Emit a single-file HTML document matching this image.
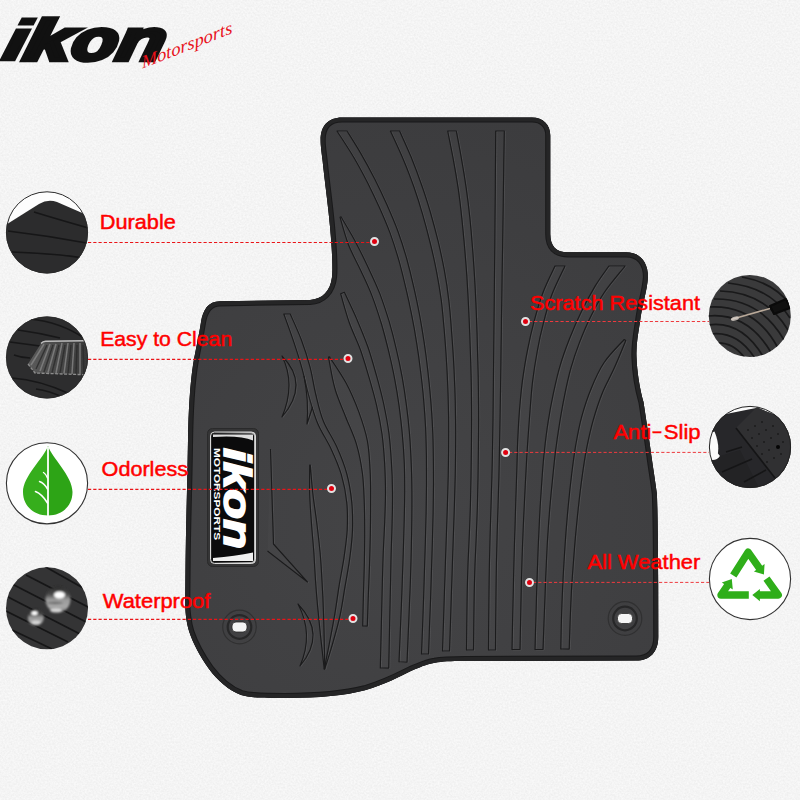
<!DOCTYPE html>
<html lang="en">
<head>
<meta charset="utf-8">
<title>Ikon Motorsports Floor Mat Features</title>
<style>
html,body{margin:0;padding:0;background:#f4f4f4;}
body{width:800px;height:800px;overflow:hidden;font-family:"Liberation Sans",sans-serif;}
svg{display:block;}
.lbl{font-family:"Liberation Sans",sans-serif;font-size:19.7px;fill:#ff0000;stroke:#ff0000;stroke-width:.45px;}
.dash{stroke:#ea1418;stroke-width:1.15;stroke-dasharray:3.2 2.05;fill:none;}
.dash2{stroke:#ee3a3e;stroke-width:1;stroke-dasharray:3.2 2.05;fill:none;}
.ribhl path{fill:none;stroke:#5c5c5e;stroke-width:1;stroke-opacity:.5;}
.rib path{fill:rgba(255,255,255,.02);stroke:#1b1b1c;stroke-width:1.15;stroke-linejoin:round;}
.ln{fill:none;stroke:#1f1f20;stroke-width:1;}
</style>
</head>
<body>
<svg width="800" height="800" viewBox="0 0 800 800">
<defs>
  <path id="matp" d="M 342,117.5 L 532,117.5 C 543,117.5 550.3,124.5 550.3,135.5 L 550.3,234 C 550.3,246 556,252.3 568,252.3 L 626,252.3 C 640,252.3 648,262 648,277 C 647,292 642,305 640,322 C 638,335 636,345 636.5,357 C 637,372 640,390 643.5,402 C 647,425 650,445 652,460 C 654,474 656,486 656.9,494 C 657.6,510 658,540 658.2,585 L 658.3,637 C 658.3,652 650,660.6 636,660.6 L 465,661 C 450,661 442,661.3 435,662.8 C 425,664.5 420,667.5 412,670.5 C 400,676.5 385,684.5 365,690.3 C 345,695.5 320,698 285,698 C 265,698 250,698 241,695 C 229,690.5 218,681 209,669 C 200,656.5 193,643 189.3,632 C 186,621 185.2,612 185.2,600 L 185.6,560 C 186,520 187.5,480 188,440 C 188.5,410 190,385 193,365 C 196,348 199,335 201,322 C 203,310 208,301.3 220,301.3 L 310,299.9 C 322,299.5 330.5,291 332,277 C 333,268 332,250 330.3,230 C 328.5,208 324.5,180 322.5,160 C 321.3,150 320.6,146 320.6,140 C 320.6,126 328,117.5 342,117.5 Z"/>
  <clipPath id="matclip"><use href="#matp"/></clipPath>
  <radialGradient id="matg" cx="400" cy="520" r="420" gradientUnits="userSpaceOnUse">
    <stop offset="0" stop-color="#444446"/>
    <stop offset="1" stop-color="#3c3c3e"/>
  </radialGradient>
  <linearGradient id="bdg" x1="0" y1="0" x2="1" y2="0"><stop offset="0" stop-color="#222"/><stop offset="1" stop-color="#bbb"/></linearGradient>
  <radialGradient id="dropg" cx=".5" cy=".5" r=".5"><stop offset="0" stop-color="#8a8a8a"/><stop offset=".7" stop-color="#6a6a6a"/><stop offset="1" stop-color="#2a2a2a"/></radialGradient>
  <radialGradient id="dropg2" cx=".5" cy=".5" r=".5"><stop offset="0" stop-color="#909090"/><stop offset=".7" stop-color="#6a6a6a"/><stop offset="1" stop-color="#2a2a2a"/></radialGradient>
  <filter id="b5" x="-10%" y="-10%" width="120%" height="120%"><feGaussianBlur stdDeviation=".55"/></filter>
  <filter id="b8" x="-10%" y="-10%" width="120%" height="120%"><feGaussianBlur stdDeviation=".8"/></filter>
  <linearGradient id="brg" x1="0" y1="0" x2="1" y2="0"><stop offset="0" stop-color="#5c5c5c"/><stop offset=".5" stop-color="#484848"/><stop offset="1" stop-color="#363636"/></linearGradient>
  <linearGradient id="drl" x1="0" y1="0" x2="0" y2="1"><stop offset="0" stop-color="#2c2c2c"/><stop offset=".3" stop-color="#4a4a4a"/><stop offset=".5" stop-color="#9a9a9a"/><stop offset=".8" stop-color="#a8a8a8"/><stop offset="1" stop-color="#6a6a6a"/></linearGradient>
  <filter id="bgn" x="0" y="0" width="100%" height="100%" color-interpolation-filters="sRGB"><feTurbulence type="fractalNoise" baseFrequency="0.55" numOctaves="2" seed="7" result="n"/><feColorMatrix in="n" type="matrix" values="0.07 0 0 0 0.922  0.07 0 0 0 0.922  0.07 0 0 0 0.922  0 0 0 0 1"/></filter>
  <clipPath id="c1"><circle cx="47" cy="232.4" r="41"/></clipPath>
  <clipPath id="c2"><circle cx="47" cy="357.4" r="41"/></clipPath>
  <clipPath id="c4"><circle cx="47" cy="608.3" r="41"/></clipPath>
  <clipPath id="c5"><circle cx="749.8" cy="316" r="41"/></clipPath>
  <clipPath id="c6"><circle cx="750" cy="447" r="41"/></clipPath>
</defs>
<rect width="800" height="800" fill="#f4f4f4"/>
<rect width="800" height="800" fill="#f4f4f4" filter="url(#bgn)"/>

<!-- MAT -->
<g clip-path="url(#matclip)">
  <use href="#matp" fill="url(#matg)"/>
  <g id="ribs">
<g class="ribhl" transform="translate(1.1,.5)">
<path d="M 495.7,131.0 C 495.7,135.8 495.6,150.2 495.5,159.9 C 495.4,169.7 495.3,179.9 495.3,189.6 C 495.2,199.3 495.1,208.5 495.0,218.0 C 494.9,227.5 494.9,237.1 494.8,246.7 C 494.7,256.2 494.6,265.6 494.5,275.2 C 494.4,284.9 494.3,295.1 494.2,304.7 C 494.1,314.3 494.0,323.4 493.9,333.0 C 493.8,342.6 493.7,352.6 493.6,362.2 C 493.5,371.8 493.4,381.0 493.3,390.6 C 493.2,400.1 493.1,409.7 493.0,419.3 C 492.8,428.9 492.7,438.6 492.5,448.2 C 492.4,457.8 492.1,467.2 491.9,476.9 C 491.6,486.7 491.3,497.0 491.0,506.7 C 490.7,516.4 490.4,525.6 490.1,535.2 C 489.9,544.8 489.6,554.9 489.4,564.4 C 489.2,574.0 489.1,582.9 489.0,592.4 C 488.9,601.9 488.8,611.8 488.7,621.4 C 488.6,631.0 488.5,645.2 488.5,650.0 L 495.5,650.0 C 495.5,645.2 495.6,631.0 495.7,621.5 C 495.8,611.9 495.9,602.0 496.0,592.5 C 496.1,583.0 496.2,574.1 496.4,564.6 C 496.6,555.0 496.9,545.0 497.1,535.4 C 497.4,525.8 497.7,516.6 498.0,506.9 C 498.3,497.2 498.6,486.9 498.9,477.1 C 499.1,467.4 499.3,457.9 499.5,448.3 C 499.7,438.7 499.9,429.1 500.0,419.4 C 500.2,409.8 500.3,400.2 500.5,390.7 C 500.6,381.1 500.8,371.9 500.9,362.3 C 501.0,352.7 501.1,342.6 501.3,333.1 C 501.4,323.5 501.5,314.4 501.7,304.8 C 501.8,295.2 502.0,285.0 502.1,275.3 C 502.3,265.7 502.4,256.3 502.6,246.8 C 502.7,237.2 502.9,227.6 503.0,218.1 C 503.2,208.6 503.3,199.4 503.4,189.7 C 503.6,180.0 503.7,169.8 503.8,160.0 C 504.0,150.2 504.2,135.8 504.3,131.0 Z"/>
<path d="M 447.7,131.0 C 448.6,135.9 451.7,150.9 453.5,160.6 C 455.3,170.3 456.9,179.7 458.3,189.2 C 459.7,198.8 460.8,208.6 461.8,218.1 C 462.8,227.5 463.6,236.6 464.5,246.2 C 465.3,255.7 466.1,265.8 466.8,275.4 C 467.4,284.9 467.9,294.0 468.4,303.6 C 468.9,313.2 469.3,323.2 469.7,332.9 C 470.1,342.6 470.4,352.3 470.7,361.8 C 471.0,371.3 471.2,380.3 471.4,389.9 C 471.5,399.5 471.6,409.6 471.6,419.3 C 471.6,429.0 471.5,438.5 471.4,448.1 C 471.3,457.8 471.1,467.8 471.0,477.3 C 470.8,486.9 470.6,495.9 470.4,505.5 C 470.1,515.0 469.7,525.0 469.3,534.8 C 468.9,544.5 468.4,554.3 468.0,563.9 C 467.7,573.5 467.4,582.7 467.2,592.2 C 467.0,601.8 466.9,611.4 466.8,621.1 C 466.7,630.7 466.5,645.2 466.5,650.0 L 473.5,650.0 C 473.6,645.2 473.7,630.7 473.8,621.1 C 473.9,611.5 474.0,601.9 474.2,592.4 C 474.4,582.9 474.7,573.7 475.0,564.2 C 475.4,554.6 475.9,544.8 476.3,535.1 C 476.7,525.3 477.1,515.3 477.4,505.7 C 477.6,496.1 477.8,487.0 478.0,477.5 C 478.1,467.9 478.3,457.9 478.4,448.2 C 478.5,438.5 478.6,429.0 478.6,419.3 C 478.6,409.6 478.5,399.4 478.4,389.8 C 478.3,380.2 478.1,371.1 477.8,361.6 C 477.6,352.1 477.3,342.4 477.0,332.6 C 476.7,322.9 476.3,312.9 475.9,303.3 C 475.5,293.6 475.0,284.5 474.4,274.9 C 473.8,265.2 473.1,255.1 472.3,245.5 C 471.6,235.9 470.8,226.8 469.8,217.2 C 468.8,207.7 467.6,197.8 466.2,188.1 C 464.8,178.4 463.2,168.6 461.5,159.1 C 459.9,149.6 457.2,135.7 456.3,131.0 Z"/>
<path d="M 390.4,131.0 C 392.6,135.8 399.6,150.6 403.5,160.0 C 407.5,169.4 410.8,178.3 414.0,187.3 C 417.2,196.4 419.9,205.0 422.6,214.3 C 425.3,223.6 427.9,233.5 430.2,243.0 C 432.6,252.6 434.8,262.2 436.6,271.8 C 438.4,281.3 440.0,290.9 441.3,300.4 C 442.5,309.9 443.2,319.1 444.1,328.8 C 444.9,338.4 445.7,348.4 446.3,358.3 C 446.9,368.2 447.5,378.3 447.8,388.0 C 448.2,397.8 448.4,407.2 448.6,416.9 C 448.7,426.5 448.7,436.0 448.6,445.8 C 448.6,455.7 448.4,466.0 448.2,475.9 C 448.0,485.7 447.7,495.4 447.4,505.1 C 447.1,514.8 446.7,524.3 446.4,534.0 C 446.1,543.7 445.7,553.3 445.4,563.1 C 445.1,572.9 444.8,582.9 444.4,592.7 C 444.1,602.5 443.8,612.2 443.5,621.9 C 443.1,631.6 442.7,646.1 442.5,651.0 L 449.5,651.0 C 449.7,646.2 450.1,631.8 450.5,622.1 C 450.8,612.4 451.1,602.7 451.4,592.9 C 451.8,583.1 452.1,573.1 452.4,563.3 C 452.7,553.5 453.0,543.9 453.4,534.3 C 453.7,524.6 454.1,515.0 454.4,505.3 C 454.7,495.6 455.0,485.9 455.2,476.0 C 455.4,466.1 455.6,455.8 455.6,445.9 C 455.7,436.0 455.7,426.5 455.5,416.8 C 455.4,407.1 455.2,397.6 454.8,387.8 C 454.4,378.0 454.0,367.8 453.4,357.9 C 452.8,348.0 452.1,337.9 451.3,328.2 C 450.6,318.4 449.9,309.2 448.7,299.6 C 447.6,289.9 446.1,279.9 444.3,270.2 C 442.5,260.4 440.4,250.9 438.1,241.2 C 435.7,231.5 433.0,221.4 430.3,212.0 C 427.5,202.6 424.8,194.0 421.5,184.8 C 418.3,175.5 414.6,165.7 411.0,156.8 C 407.3,147.8 401.5,135.3 399.6,131.0 Z"/>
<path d="M 337.0,131.0 C 339.8,135.4 348.6,148.6 353.7,157.2 C 358.8,165.8 363.3,174.3 367.6,182.7 C 371.8,191.1 375.5,198.9 379.3,207.3 C 383.1,215.8 386.9,224.6 390.2,233.4 C 393.4,242.2 396.2,251.1 398.8,260.2 C 401.4,269.3 403.6,278.7 405.8,287.9 C 408.0,297.2 410.0,306.5 411.8,315.7 C 413.7,324.9 415.3,334.2 416.7,343.4 C 418.2,352.5 419.4,361.4 420.5,370.7 C 421.7,380.1 422.8,389.7 423.6,399.2 C 424.4,408.7 425.1,418.3 425.6,427.7 C 426.0,437.1 426.2,446.1 426.4,455.6 C 426.5,465.0 426.5,475.0 426.5,484.5 C 426.4,494.0 426.3,503.4 426.1,512.7 C 425.9,522.1 425.6,531.3 425.4,540.6 C 425.1,550.0 424.8,559.4 424.5,568.9 C 424.2,578.5 423.9,588.4 423.6,597.9 C 423.3,607.5 422.9,616.8 422.6,626.2 C 422.2,635.5 421.7,649.4 421.5,654.0 L 428.5,654.0 C 428.7,649.4 429.2,635.8 429.5,626.4 C 429.9,617.1 430.3,607.7 430.6,598.2 C 430.9,588.6 431.2,578.7 431.5,569.1 C 431.8,559.6 432.1,550.2 432.4,540.8 C 432.6,531.5 432.9,522.3 433.1,512.9 C 433.3,503.5 433.4,494.1 433.5,484.5 C 433.5,475.0 433.5,465.0 433.3,455.5 C 433.2,445.9 433.0,436.8 432.5,427.3 C 432.1,417.9 431.4,408.2 430.6,398.6 C 429.8,389.0 428.8,379.3 427.7,369.9 C 426.7,360.5 425.5,351.5 424.1,342.2 C 422.7,333.0 421.2,323.6 419.4,314.2 C 417.6,304.9 415.7,295.5 413.5,286.2 C 411.4,276.8 409.1,267.3 406.5,258.0 C 403.9,248.8 401.0,239.7 397.7,230.7 C 394.4,221.7 390.4,212.6 386.6,204.0 C 382.7,195.4 379.0,187.6 374.7,179.1 C 370.4,170.6 365.3,161.1 360.6,153.1 C 356.0,145.1 349.3,134.7 347.0,131.0 Z"/>
<path d="M 340.0,217.2 C 341.4,221.8 345.0,235.8 348.5,244.8 C 352.0,253.8 357.2,262.7 361.1,271.3 C 365.1,279.9 368.9,287.6 372.2,296.4 C 375.6,305.2 378.7,315.0 381.5,324.0 C 384.2,333.1 386.3,341.6 388.5,350.7 C 390.7,359.8 392.9,369.5 394.6,378.7 C 396.4,388.0 397.8,396.8 399.1,406.1 C 400.3,415.3 401.5,424.9 402.3,434.4 C 403.2,444.0 403.9,453.9 404.3,463.4 C 404.7,472.9 404.7,481.9 404.7,491.3 C 404.7,500.7 404.4,510.6 404.2,520.0 C 404.0,529.5 403.6,538.6 403.4,548.2 C 403.1,557.7 402.8,567.9 402.4,577.3 C 402.1,586.8 401.8,595.5 401.4,604.9 C 401.0,614.3 400.6,624.4 400.2,633.9 C 399.8,643.4 399.2,657.2 399.0,661.8 L 407.0,662.2 C 407.2,657.5 407.8,643.7 408.2,634.3 C 408.6,624.8 409.1,614.7 409.4,605.2 C 409.8,595.8 410.2,587.1 410.5,577.6 C 410.8,568.2 411.1,558.0 411.3,548.4 C 411.5,538.8 411.7,529.7 411.8,520.2 C 411.9,510.7 412.0,500.8 411.9,491.3 C 411.8,481.8 411.7,472.7 411.2,463.1 C 410.8,453.5 410.3,443.5 409.5,433.8 C 408.7,424.1 407.7,414.5 406.4,405.1 C 405.2,395.7 403.9,386.7 402.2,377.3 C 400.5,367.9 398.4,358.1 396.2,348.9 C 394.1,339.6 391.9,330.9 389.2,321.7 C 386.4,312.5 383.2,302.6 379.8,293.6 C 376.3,284.6 372.4,276.5 368.3,267.8 C 364.3,259.2 359.9,250.2 355.4,241.7 C 350.8,233.2 343.4,221.0 341.0,216.8 Z"/>
<path d="M 340.6,293.7 C 342.1,298.5 346.0,313.4 349.3,322.7 C 352.6,332.0 357.1,340.5 360.4,349.7 C 363.7,358.9 366.4,368.5 369.1,377.7 C 371.8,387.0 374.4,395.8 376.5,405.2 C 378.7,414.6 380.6,424.4 382.0,434.0 C 383.3,443.5 384.0,453.1 384.6,462.7 C 385.1,472.4 385.5,482.0 385.5,491.9 C 385.5,501.7 385.0,511.9 384.7,521.8 C 384.3,531.7 383.7,541.6 383.3,551.3 C 382.9,561.0 382.7,570.4 382.4,580.2 C 382.2,589.9 381.9,600.1 381.7,610.0 C 381.5,619.9 381.2,629.9 381.0,639.6 C 380.8,649.2 380.4,663.2 380.3,667.9 L 388.7,668.1 C 388.8,663.4 389.1,649.4 389.3,639.7 C 389.5,630.1 389.7,620.1 389.9,610.2 C 390.1,600.3 390.4,590.1 390.6,580.3 C 390.8,570.6 390.9,561.2 391.2,551.5 C 391.5,541.8 391.9,532.1 392.1,522.2 C 392.4,512.2 392.6,501.8 392.5,491.8 C 392.4,481.8 392.1,472.1 391.4,462.3 C 390.8,452.5 390.2,442.9 388.9,433.1 C 387.6,423.3 385.6,413.1 383.6,403.5 C 381.5,393.9 379.1,385.1 376.5,375.7 C 373.9,366.3 371.2,356.5 368.0,347.2 C 364.7,337.8 360.8,328.6 356.9,319.4 C 353.0,310.3 346.5,296.8 344.4,292.3 Z"/>
<path d="M 328.5,357.1 C 329.6,362.4 332.0,378.6 334.9,388.5 C 337.7,398.4 342.0,407.4 345.6,416.7 C 349.2,426.0 353.7,434.9 356.5,444.3 C 359.3,453.8 361.1,463.4 362.4,473.3 C 363.7,483.2 363.9,493.4 364.3,503.7 C 364.7,514.0 364.7,524.8 364.7,535.1 C 364.7,545.3 364.5,554.9 364.3,565.0 C 364.1,575.2 363.6,585.8 363.4,595.9 C 363.1,606.1 362.8,620.9 362.7,625.9 L 367.3,626.1 C 367.5,621.1 367.9,606.2 368.3,596.1 C 368.7,585.9 369.1,575.4 369.5,565.2 C 369.8,555.0 370.1,545.4 370.3,535.1 C 370.5,524.8 370.6,514.0 370.6,503.6 C 370.6,493.3 370.8,483.2 370.2,472.8 C 369.7,462.4 369.3,451.3 367.4,441.1 C 365.5,431.0 362.3,421.6 358.8,411.9 C 355.2,402.3 351.0,392.3 346.1,383.1 C 341.2,373.9 332.2,361.2 329.5,356.9 Z"/>
<path d="M 283.8,314.0 C 285.5,318.7 290.9,333.3 293.9,342.4 C 297.0,351.6 299.6,359.8 302.1,368.9 C 304.6,377.9 306.4,387.6 309.0,396.7 C 311.6,405.8 314.0,414.7 317.7,423.4 C 321.4,432.1 327.1,440.4 331.1,448.9 C 335.1,457.5 338.8,466.0 341.4,474.8 C 344.0,483.7 345.8,493.0 346.7,502.1 C 347.7,511.3 347.6,520.4 347.2,529.7 C 346.7,539.1 345.2,548.8 343.9,558.2 C 342.5,567.6 340.5,576.9 339.0,586.3 C 337.5,595.6 336.4,604.9 334.8,614.2 C 333.2,623.5 331.4,632.9 329.6,642.1 C 327.9,651.2 325.1,664.5 324.2,669.0 L 324.8,669.0 C 326.1,664.6 330.3,651.8 332.8,642.9 C 335.4,633.9 338.1,624.4 340.1,615.2 C 342.1,605.9 343.3,596.5 344.9,587.2 C 346.5,577.8 348.3,568.7 349.6,559.2 C 350.9,549.7 352.1,539.6 352.5,530.0 C 352.8,520.4 352.6,511.0 351.7,501.6 C 350.7,492.2 349.2,482.8 346.7,473.5 C 344.2,464.3 340.3,454.8 336.4,446.1 C 332.5,437.4 326.8,429.7 323.4,421.2 C 319.9,412.7 318.1,404.1 315.9,395.0 C 313.6,385.9 312.4,375.9 309.9,366.7 C 307.5,357.5 304.6,348.5 301.3,339.7 C 298.0,331.0 292.1,318.3 290.2,314.0 Z"/>
<path d="M 309.7,465.0 C 309.7,469.9 309.4,484.7 309.7,494.5 C 310.0,504.3 310.8,514.1 311.5,523.9 C 312.2,533.7 313.2,543.6 313.9,553.2 C 314.5,562.9 314.9,572.1 315.6,581.8 C 316.3,591.5 317.1,601.7 318.1,611.4 C 319.0,621.1 320.0,630.5 321.0,640.1 C 322.1,649.7 323.7,664.2 324.2,669.0 L 324.8,669.0 C 324.7,664.1 324.4,649.5 324.2,639.9 C 324.0,630.2 323.8,620.8 323.4,611.1 C 323.1,601.3 322.6,591.1 322.0,581.4 C 321.5,571.7 321.0,562.5 320.1,552.8 C 319.2,543.1 318.0,532.9 316.8,523.2 C 315.6,513.4 314.0,504.0 312.9,494.3 C 311.8,484.6 310.7,469.9 310.3,465.0 Z"/>
<path d="M 555.0,266.0 C 553.0,270.4 546.6,282.9 543.1,292.2 C 539.6,301.5 536.6,311.9 534.0,321.6 C 531.4,331.2 529.4,340.3 527.5,350.1 C 525.5,360.0 523.8,370.9 522.4,380.8 C 521.1,390.8 520.3,400.0 519.5,409.9 C 518.7,419.8 518.2,430.0 517.7,440.2 C 517.3,450.3 517.1,460.7 516.8,470.7 C 516.5,480.7 516.1,490.2 515.8,500.1 C 515.5,510.1 515.2,520.4 514.9,530.4 C 514.5,540.3 514.3,549.9 514.0,559.9 C 513.7,569.9 513.5,580.3 513.3,590.4 C 513.0,600.5 512.8,610.4 512.6,620.3 C 512.4,630.1 512.1,644.6 512.0,649.5 L 520.0,649.5 C 520.1,644.7 520.4,630.2 520.6,620.4 C 520.8,610.6 521.0,600.6 521.2,590.6 C 521.4,580.5 521.7,570.1 522.0,560.1 C 522.3,550.1 522.7,540.6 523.1,530.7 C 523.5,520.7 524.0,510.4 524.5,500.5 C 525.0,490.5 525.4,481.1 526.0,471.1 C 526.5,461.1 527.1,450.7 527.8,440.7 C 528.5,430.6 529.2,420.5 530.0,410.7 C 530.8,401.0 531.3,391.8 532.5,382.0 C 533.7,372.2 535.3,361.7 537.1,352.0 C 538.8,342.3 540.7,333.3 543.2,323.9 C 545.6,314.4 548.0,304.9 551.6,295.3 C 555.2,285.6 562.7,270.9 565.0,266.0 Z"/>
<path d="M 608.9,266.0 C 606.6,269.4 599.8,278.4 595.1,286.1 C 590.5,293.8 585.4,303.4 581.1,312.2 C 576.8,320.9 573.1,329.6 569.6,338.5 C 566.1,347.4 562.9,356.1 560.2,365.3 C 557.4,374.5 555.3,384.2 553.3,393.7 C 551.3,403.1 549.6,412.3 548.1,421.9 C 546.6,431.4 545.4,441.3 544.4,450.8 C 543.3,460.2 542.7,469.2 542.0,478.6 C 541.3,488.0 540.7,497.6 540.1,507.2 C 539.6,516.8 539.1,526.8 538.7,536.2 C 538.2,545.7 537.9,554.5 537.6,564.0 C 537.2,573.5 536.9,583.6 536.6,593.2 C 536.3,602.7 536.1,611.9 535.8,621.3 C 535.5,630.7 535.1,644.8 535.0,649.5 L 543.0,649.5 C 543.2,644.8 543.7,630.9 544.0,621.5 C 544.4,612.2 544.7,603.0 545.1,593.5 C 545.4,583.9 545.8,573.8 546.3,564.4 C 546.7,554.9 547.1,546.1 547.7,536.7 C 548.3,527.3 549.0,517.4 549.8,507.9 C 550.6,498.4 551.5,488.8 552.5,479.5 C 553.4,470.2 554.3,461.3 555.4,452.0 C 556.6,442.7 558.0,433.1 559.5,423.7 C 561.0,414.4 562.6,405.1 564.5,395.9 C 566.3,386.7 568.3,377.3 570.8,368.4 C 573.3,359.5 576.2,351.0 579.5,342.4 C 582.8,333.8 586.4,325.1 590.6,316.7 C 594.7,308.4 598.7,300.7 604.4,292.2 C 610.2,283.8 621.7,270.4 625.1,266.0 Z"/>
<path d="M 624.2,339.5 C 620.8,343.3 609.6,354.3 604.1,362.5 C 598.6,370.7 594.8,379.5 591.1,388.7 C 587.3,397.8 584.1,407.8 581.5,417.4 C 578.9,427.0 577.2,436.8 575.5,446.3 C 573.9,455.8 572.8,464.9 571.6,474.6 C 570.4,484.3 569.3,494.6 568.4,504.4 C 567.4,514.1 566.7,523.5 565.9,533.1 C 565.2,542.7 564.6,552.4 564.0,562.0 C 563.4,571.6 562.9,581.0 562.5,590.9 C 562.0,600.7 561.7,611.3 561.4,621.0 C 561.1,630.6 560.9,644.2 560.8,648.9 L 569.2,649.1 C 569.4,644.5 569.8,630.9 570.1,621.2 C 570.5,611.6 570.9,601.1 571.4,591.3 C 572.0,581.6 572.6,572.2 573.4,562.6 C 574.1,553.1 574.8,543.5 575.7,533.9 C 576.6,524.4 577.5,515.1 578.6,505.4 C 579.6,495.8 580.9,485.5 582.2,475.9 C 583.5,466.4 584.8,457.5 586.6,448.3 C 588.5,439.0 590.5,429.6 593.1,420.4 C 595.7,411.2 598.7,401.9 602.2,393.2 C 605.7,384.5 610.3,376.9 614.2,368.1 C 618.2,359.3 623.9,345.1 625.8,340.5 Z"/>
<path d="M282,356 Q310,384 282,417 Q296,384 282,356Z"/>
<path d="M298,604 Q327,634 300,666 Q314,634 298,604Z"/>
<path d="M304,376 Q309,402 307,424 L312.5,407" fill="none"/>
<path d="M270.5,449 L273.5,544 L307.5,582 L267.5,551" fill="none"/>
</g>
<g class="rib">
<path d="M 495.7,131.0 C 495.7,135.8 495.6,150.2 495.5,159.9 C 495.4,169.7 495.3,179.9 495.3,189.6 C 495.2,199.3 495.1,208.5 495.0,218.0 C 494.9,227.5 494.9,237.1 494.8,246.7 C 494.7,256.2 494.6,265.6 494.5,275.2 C 494.4,284.9 494.3,295.1 494.2,304.7 C 494.1,314.3 494.0,323.4 493.9,333.0 C 493.8,342.6 493.7,352.6 493.6,362.2 C 493.5,371.8 493.4,381.0 493.3,390.6 C 493.2,400.1 493.1,409.7 493.0,419.3 C 492.8,428.9 492.7,438.6 492.5,448.2 C 492.4,457.8 492.1,467.2 491.9,476.9 C 491.6,486.7 491.3,497.0 491.0,506.7 C 490.7,516.4 490.4,525.6 490.1,535.2 C 489.9,544.8 489.6,554.9 489.4,564.4 C 489.2,574.0 489.1,582.9 489.0,592.4 C 488.9,601.9 488.8,611.8 488.7,621.4 C 488.6,631.0 488.5,645.2 488.5,650.0 L 495.5,650.0 C 495.5,645.2 495.6,631.0 495.7,621.5 C 495.8,611.9 495.9,602.0 496.0,592.5 C 496.1,583.0 496.2,574.1 496.4,564.6 C 496.6,555.0 496.9,545.0 497.1,535.4 C 497.4,525.8 497.7,516.6 498.0,506.9 C 498.3,497.2 498.6,486.9 498.9,477.1 C 499.1,467.4 499.3,457.9 499.5,448.3 C 499.7,438.7 499.9,429.1 500.0,419.4 C 500.2,409.8 500.3,400.2 500.5,390.7 C 500.6,381.1 500.8,371.9 500.9,362.3 C 501.0,352.7 501.1,342.6 501.3,333.1 C 501.4,323.5 501.5,314.4 501.7,304.8 C 501.8,295.2 502.0,285.0 502.1,275.3 C 502.3,265.7 502.4,256.3 502.6,246.8 C 502.7,237.2 502.9,227.6 503.0,218.1 C 503.2,208.6 503.3,199.4 503.4,189.7 C 503.6,180.0 503.7,169.8 503.8,160.0 C 504.0,150.2 504.2,135.8 504.3,131.0 Z"/>
<path d="M 447.7,131.0 C 448.6,135.9 451.7,150.9 453.5,160.6 C 455.3,170.3 456.9,179.7 458.3,189.2 C 459.7,198.8 460.8,208.6 461.8,218.1 C 462.8,227.5 463.6,236.6 464.5,246.2 C 465.3,255.7 466.1,265.8 466.8,275.4 C 467.4,284.9 467.9,294.0 468.4,303.6 C 468.9,313.2 469.3,323.2 469.7,332.9 C 470.1,342.6 470.4,352.3 470.7,361.8 C 471.0,371.3 471.2,380.3 471.4,389.9 C 471.5,399.5 471.6,409.6 471.6,419.3 C 471.6,429.0 471.5,438.5 471.4,448.1 C 471.3,457.8 471.1,467.8 471.0,477.3 C 470.8,486.9 470.6,495.9 470.4,505.5 C 470.1,515.0 469.7,525.0 469.3,534.8 C 468.9,544.5 468.4,554.3 468.0,563.9 C 467.7,573.5 467.4,582.7 467.2,592.2 C 467.0,601.8 466.9,611.4 466.8,621.1 C 466.7,630.7 466.5,645.2 466.5,650.0 L 473.5,650.0 C 473.6,645.2 473.7,630.7 473.8,621.1 C 473.9,611.5 474.0,601.9 474.2,592.4 C 474.4,582.9 474.7,573.7 475.0,564.2 C 475.4,554.6 475.9,544.8 476.3,535.1 C 476.7,525.3 477.1,515.3 477.4,505.7 C 477.6,496.1 477.8,487.0 478.0,477.5 C 478.1,467.9 478.3,457.9 478.4,448.2 C 478.5,438.5 478.6,429.0 478.6,419.3 C 478.6,409.6 478.5,399.4 478.4,389.8 C 478.3,380.2 478.1,371.1 477.8,361.6 C 477.6,352.1 477.3,342.4 477.0,332.6 C 476.7,322.9 476.3,312.9 475.9,303.3 C 475.5,293.6 475.0,284.5 474.4,274.9 C 473.8,265.2 473.1,255.1 472.3,245.5 C 471.6,235.9 470.8,226.8 469.8,217.2 C 468.8,207.7 467.6,197.8 466.2,188.1 C 464.8,178.4 463.2,168.6 461.5,159.1 C 459.9,149.6 457.2,135.7 456.3,131.0 Z"/>
<path d="M 390.4,131.0 C 392.6,135.8 399.6,150.6 403.5,160.0 C 407.5,169.4 410.8,178.3 414.0,187.3 C 417.2,196.4 419.9,205.0 422.6,214.3 C 425.3,223.6 427.9,233.5 430.2,243.0 C 432.6,252.6 434.8,262.2 436.6,271.8 C 438.4,281.3 440.0,290.9 441.3,300.4 C 442.5,309.9 443.2,319.1 444.1,328.8 C 444.9,338.4 445.7,348.4 446.3,358.3 C 446.9,368.2 447.5,378.3 447.8,388.0 C 448.2,397.8 448.4,407.2 448.6,416.9 C 448.7,426.5 448.7,436.0 448.6,445.8 C 448.6,455.7 448.4,466.0 448.2,475.9 C 448.0,485.7 447.7,495.4 447.4,505.1 C 447.1,514.8 446.7,524.3 446.4,534.0 C 446.1,543.7 445.7,553.3 445.4,563.1 C 445.1,572.9 444.8,582.9 444.4,592.7 C 444.1,602.5 443.8,612.2 443.5,621.9 C 443.1,631.6 442.7,646.1 442.5,651.0 L 449.5,651.0 C 449.7,646.2 450.1,631.8 450.5,622.1 C 450.8,612.4 451.1,602.7 451.4,592.9 C 451.8,583.1 452.1,573.1 452.4,563.3 C 452.7,553.5 453.0,543.9 453.4,534.3 C 453.7,524.6 454.1,515.0 454.4,505.3 C 454.7,495.6 455.0,485.9 455.2,476.0 C 455.4,466.1 455.6,455.8 455.6,445.9 C 455.7,436.0 455.7,426.5 455.5,416.8 C 455.4,407.1 455.2,397.6 454.8,387.8 C 454.4,378.0 454.0,367.8 453.4,357.9 C 452.8,348.0 452.1,337.9 451.3,328.2 C 450.6,318.4 449.9,309.2 448.7,299.6 C 447.6,289.9 446.1,279.9 444.3,270.2 C 442.5,260.4 440.4,250.9 438.1,241.2 C 435.7,231.5 433.0,221.4 430.3,212.0 C 427.5,202.6 424.8,194.0 421.5,184.8 C 418.3,175.5 414.6,165.7 411.0,156.8 C 407.3,147.8 401.5,135.3 399.6,131.0 Z"/>
<path d="M 337.0,131.0 C 339.8,135.4 348.6,148.6 353.7,157.2 C 358.8,165.8 363.3,174.3 367.6,182.7 C 371.8,191.1 375.5,198.9 379.3,207.3 C 383.1,215.8 386.9,224.6 390.2,233.4 C 393.4,242.2 396.2,251.1 398.8,260.2 C 401.4,269.3 403.6,278.7 405.8,287.9 C 408.0,297.2 410.0,306.5 411.8,315.7 C 413.7,324.9 415.3,334.2 416.7,343.4 C 418.2,352.5 419.4,361.4 420.5,370.7 C 421.7,380.1 422.8,389.7 423.6,399.2 C 424.4,408.7 425.1,418.3 425.6,427.7 C 426.0,437.1 426.2,446.1 426.4,455.6 C 426.5,465.0 426.5,475.0 426.5,484.5 C 426.4,494.0 426.3,503.4 426.1,512.7 C 425.9,522.1 425.6,531.3 425.4,540.6 C 425.1,550.0 424.8,559.4 424.5,568.9 C 424.2,578.5 423.9,588.4 423.6,597.9 C 423.3,607.5 422.9,616.8 422.6,626.2 C 422.2,635.5 421.7,649.4 421.5,654.0 L 428.5,654.0 C 428.7,649.4 429.2,635.8 429.5,626.4 C 429.9,617.1 430.3,607.7 430.6,598.2 C 430.9,588.6 431.2,578.7 431.5,569.1 C 431.8,559.6 432.1,550.2 432.4,540.8 C 432.6,531.5 432.9,522.3 433.1,512.9 C 433.3,503.5 433.4,494.1 433.5,484.5 C 433.5,475.0 433.5,465.0 433.3,455.5 C 433.2,445.9 433.0,436.8 432.5,427.3 C 432.1,417.9 431.4,408.2 430.6,398.6 C 429.8,389.0 428.8,379.3 427.7,369.9 C 426.7,360.5 425.5,351.5 424.1,342.2 C 422.7,333.0 421.2,323.6 419.4,314.2 C 417.6,304.9 415.7,295.5 413.5,286.2 C 411.4,276.8 409.1,267.3 406.5,258.0 C 403.9,248.8 401.0,239.7 397.7,230.7 C 394.4,221.7 390.4,212.6 386.6,204.0 C 382.7,195.4 379.0,187.6 374.7,179.1 C 370.4,170.6 365.3,161.1 360.6,153.1 C 356.0,145.1 349.3,134.7 347.0,131.0 Z"/>
<path d="M 340.0,217.2 C 341.4,221.8 345.0,235.8 348.5,244.8 C 352.0,253.8 357.2,262.7 361.1,271.3 C 365.1,279.9 368.9,287.6 372.2,296.4 C 375.6,305.2 378.7,315.0 381.5,324.0 C 384.2,333.1 386.3,341.6 388.5,350.7 C 390.7,359.8 392.9,369.5 394.6,378.7 C 396.4,388.0 397.8,396.8 399.1,406.1 C 400.3,415.3 401.5,424.9 402.3,434.4 C 403.2,444.0 403.9,453.9 404.3,463.4 C 404.7,472.9 404.7,481.9 404.7,491.3 C 404.7,500.7 404.4,510.6 404.2,520.0 C 404.0,529.5 403.6,538.6 403.4,548.2 C 403.1,557.7 402.8,567.9 402.4,577.3 C 402.1,586.8 401.8,595.5 401.4,604.9 C 401.0,614.3 400.6,624.4 400.2,633.9 C 399.8,643.4 399.2,657.2 399.0,661.8 L 407.0,662.2 C 407.2,657.5 407.8,643.7 408.2,634.3 C 408.6,624.8 409.1,614.7 409.4,605.2 C 409.8,595.8 410.2,587.1 410.5,577.6 C 410.8,568.2 411.1,558.0 411.3,548.4 C 411.5,538.8 411.7,529.7 411.8,520.2 C 411.9,510.7 412.0,500.8 411.9,491.3 C 411.8,481.8 411.7,472.7 411.2,463.1 C 410.8,453.5 410.3,443.5 409.5,433.8 C 408.7,424.1 407.7,414.5 406.4,405.1 C 405.2,395.7 403.9,386.7 402.2,377.3 C 400.5,367.9 398.4,358.1 396.2,348.9 C 394.1,339.6 391.9,330.9 389.2,321.7 C 386.4,312.5 383.2,302.6 379.8,293.6 C 376.3,284.6 372.4,276.5 368.3,267.8 C 364.3,259.2 359.9,250.2 355.4,241.7 C 350.8,233.2 343.4,221.0 341.0,216.8 Z"/>
<path d="M 340.6,293.7 C 342.1,298.5 346.0,313.4 349.3,322.7 C 352.6,332.0 357.1,340.5 360.4,349.7 C 363.7,358.9 366.4,368.5 369.1,377.7 C 371.8,387.0 374.4,395.8 376.5,405.2 C 378.7,414.6 380.6,424.4 382.0,434.0 C 383.3,443.5 384.0,453.1 384.6,462.7 C 385.1,472.4 385.5,482.0 385.5,491.9 C 385.5,501.7 385.0,511.9 384.7,521.8 C 384.3,531.7 383.7,541.6 383.3,551.3 C 382.9,561.0 382.7,570.4 382.4,580.2 C 382.2,589.9 381.9,600.1 381.7,610.0 C 381.5,619.9 381.2,629.9 381.0,639.6 C 380.8,649.2 380.4,663.2 380.3,667.9 L 388.7,668.1 C 388.8,663.4 389.1,649.4 389.3,639.7 C 389.5,630.1 389.7,620.1 389.9,610.2 C 390.1,600.3 390.4,590.1 390.6,580.3 C 390.8,570.6 390.9,561.2 391.2,551.5 C 391.5,541.8 391.9,532.1 392.1,522.2 C 392.4,512.2 392.6,501.8 392.5,491.8 C 392.4,481.8 392.1,472.1 391.4,462.3 C 390.8,452.5 390.2,442.9 388.9,433.1 C 387.6,423.3 385.6,413.1 383.6,403.5 C 381.5,393.9 379.1,385.1 376.5,375.7 C 373.9,366.3 371.2,356.5 368.0,347.2 C 364.7,337.8 360.8,328.6 356.9,319.4 C 353.0,310.3 346.5,296.8 344.4,292.3 Z"/>
<path d="M 328.5,357.1 C 329.6,362.4 332.0,378.6 334.9,388.5 C 337.7,398.4 342.0,407.4 345.6,416.7 C 349.2,426.0 353.7,434.9 356.5,444.3 C 359.3,453.8 361.1,463.4 362.4,473.3 C 363.7,483.2 363.9,493.4 364.3,503.7 C 364.7,514.0 364.7,524.8 364.7,535.1 C 364.7,545.3 364.5,554.9 364.3,565.0 C 364.1,575.2 363.6,585.8 363.4,595.9 C 363.1,606.1 362.8,620.9 362.7,625.9 L 367.3,626.1 C 367.5,621.1 367.9,606.2 368.3,596.1 C 368.7,585.9 369.1,575.4 369.5,565.2 C 369.8,555.0 370.1,545.4 370.3,535.1 C 370.5,524.8 370.6,514.0 370.6,503.6 C 370.6,493.3 370.8,483.2 370.2,472.8 C 369.7,462.4 369.3,451.3 367.4,441.1 C 365.5,431.0 362.3,421.6 358.8,411.9 C 355.2,402.3 351.0,392.3 346.1,383.1 C 341.2,373.9 332.2,361.2 329.5,356.9 Z"/>
<path d="M 283.8,314.0 C 285.5,318.7 290.9,333.3 293.9,342.4 C 297.0,351.6 299.6,359.8 302.1,368.9 C 304.6,377.9 306.4,387.6 309.0,396.7 C 311.6,405.8 314.0,414.7 317.7,423.4 C 321.4,432.1 327.1,440.4 331.1,448.9 C 335.1,457.5 338.8,466.0 341.4,474.8 C 344.0,483.7 345.8,493.0 346.7,502.1 C 347.7,511.3 347.6,520.4 347.2,529.7 C 346.7,539.1 345.2,548.8 343.9,558.2 C 342.5,567.6 340.5,576.9 339.0,586.3 C 337.5,595.6 336.4,604.9 334.8,614.2 C 333.2,623.5 331.4,632.9 329.6,642.1 C 327.9,651.2 325.1,664.5 324.2,669.0 L 324.8,669.0 C 326.1,664.6 330.3,651.8 332.8,642.9 C 335.4,633.9 338.1,624.4 340.1,615.2 C 342.1,605.9 343.3,596.5 344.9,587.2 C 346.5,577.8 348.3,568.7 349.6,559.2 C 350.9,549.7 352.1,539.6 352.5,530.0 C 352.8,520.4 352.6,511.0 351.7,501.6 C 350.7,492.2 349.2,482.8 346.7,473.5 C 344.2,464.3 340.3,454.8 336.4,446.1 C 332.5,437.4 326.8,429.7 323.4,421.2 C 319.9,412.7 318.1,404.1 315.9,395.0 C 313.6,385.9 312.4,375.9 309.9,366.7 C 307.5,357.5 304.6,348.5 301.3,339.7 C 298.0,331.0 292.1,318.3 290.2,314.0 Z"/>
<path d="M 309.7,465.0 C 309.7,469.9 309.4,484.7 309.7,494.5 C 310.0,504.3 310.8,514.1 311.5,523.9 C 312.2,533.7 313.2,543.6 313.9,553.2 C 314.5,562.9 314.9,572.1 315.6,581.8 C 316.3,591.5 317.1,601.7 318.1,611.4 C 319.0,621.1 320.0,630.5 321.0,640.1 C 322.1,649.7 323.7,664.2 324.2,669.0 L 324.8,669.0 C 324.7,664.1 324.4,649.5 324.2,639.9 C 324.0,630.2 323.8,620.8 323.4,611.1 C 323.1,601.3 322.6,591.1 322.0,581.4 C 321.5,571.7 321.0,562.5 320.1,552.8 C 319.2,543.1 318.0,532.9 316.8,523.2 C 315.6,513.4 314.0,504.0 312.9,494.3 C 311.8,484.6 310.7,469.9 310.3,465.0 Z"/>
<path d="M 555.0,266.0 C 553.0,270.4 546.6,282.9 543.1,292.2 C 539.6,301.5 536.6,311.9 534.0,321.6 C 531.4,331.2 529.4,340.3 527.5,350.1 C 525.5,360.0 523.8,370.9 522.4,380.8 C 521.1,390.8 520.3,400.0 519.5,409.9 C 518.7,419.8 518.2,430.0 517.7,440.2 C 517.3,450.3 517.1,460.7 516.8,470.7 C 516.5,480.7 516.1,490.2 515.8,500.1 C 515.5,510.1 515.2,520.4 514.9,530.4 C 514.5,540.3 514.3,549.9 514.0,559.9 C 513.7,569.9 513.5,580.3 513.3,590.4 C 513.0,600.5 512.8,610.4 512.6,620.3 C 512.4,630.1 512.1,644.6 512.0,649.5 L 520.0,649.5 C 520.1,644.7 520.4,630.2 520.6,620.4 C 520.8,610.6 521.0,600.6 521.2,590.6 C 521.4,580.5 521.7,570.1 522.0,560.1 C 522.3,550.1 522.7,540.6 523.1,530.7 C 523.5,520.7 524.0,510.4 524.5,500.5 C 525.0,490.5 525.4,481.1 526.0,471.1 C 526.5,461.1 527.1,450.7 527.8,440.7 C 528.5,430.6 529.2,420.5 530.0,410.7 C 530.8,401.0 531.3,391.8 532.5,382.0 C 533.7,372.2 535.3,361.7 537.1,352.0 C 538.8,342.3 540.7,333.3 543.2,323.9 C 545.6,314.4 548.0,304.9 551.6,295.3 C 555.2,285.6 562.7,270.9 565.0,266.0 Z"/>
<path d="M 608.9,266.0 C 606.6,269.4 599.8,278.4 595.1,286.1 C 590.5,293.8 585.4,303.4 581.1,312.2 C 576.8,320.9 573.1,329.6 569.6,338.5 C 566.1,347.4 562.9,356.1 560.2,365.3 C 557.4,374.5 555.3,384.2 553.3,393.7 C 551.3,403.1 549.6,412.3 548.1,421.9 C 546.6,431.4 545.4,441.3 544.4,450.8 C 543.3,460.2 542.7,469.2 542.0,478.6 C 541.3,488.0 540.7,497.6 540.1,507.2 C 539.6,516.8 539.1,526.8 538.7,536.2 C 538.2,545.7 537.9,554.5 537.6,564.0 C 537.2,573.5 536.9,583.6 536.6,593.2 C 536.3,602.7 536.1,611.9 535.8,621.3 C 535.5,630.7 535.1,644.8 535.0,649.5 L 543.0,649.5 C 543.2,644.8 543.7,630.9 544.0,621.5 C 544.4,612.2 544.7,603.0 545.1,593.5 C 545.4,583.9 545.8,573.8 546.3,564.4 C 546.7,554.9 547.1,546.1 547.7,536.7 C 548.3,527.3 549.0,517.4 549.8,507.9 C 550.6,498.4 551.5,488.8 552.5,479.5 C 553.4,470.2 554.3,461.3 555.4,452.0 C 556.6,442.7 558.0,433.1 559.5,423.7 C 561.0,414.4 562.6,405.1 564.5,395.9 C 566.3,386.7 568.3,377.3 570.8,368.4 C 573.3,359.5 576.2,351.0 579.5,342.4 C 582.8,333.8 586.4,325.1 590.6,316.7 C 594.7,308.4 598.7,300.7 604.4,292.2 C 610.2,283.8 621.7,270.4 625.1,266.0 Z"/>
<path d="M 624.2,339.5 C 620.8,343.3 609.6,354.3 604.1,362.5 C 598.6,370.7 594.8,379.5 591.1,388.7 C 587.3,397.8 584.1,407.8 581.5,417.4 C 578.9,427.0 577.2,436.8 575.5,446.3 C 573.9,455.8 572.8,464.9 571.6,474.6 C 570.4,484.3 569.3,494.6 568.4,504.4 C 567.4,514.1 566.7,523.5 565.9,533.1 C 565.2,542.7 564.6,552.4 564.0,562.0 C 563.4,571.6 562.9,581.0 562.5,590.9 C 562.0,600.7 561.7,611.3 561.4,621.0 C 561.1,630.6 560.9,644.2 560.8,648.9 L 569.2,649.1 C 569.4,644.5 569.8,630.9 570.1,621.2 C 570.5,611.6 570.9,601.1 571.4,591.3 C 572.0,581.6 572.6,572.2 573.4,562.6 C 574.1,553.1 574.8,543.5 575.7,533.9 C 576.6,524.4 577.5,515.1 578.6,505.4 C 579.6,495.8 580.9,485.5 582.2,475.9 C 583.5,466.4 584.8,457.5 586.6,448.3 C 588.5,439.0 590.5,429.6 593.1,420.4 C 595.7,411.2 598.7,401.9 602.2,393.2 C 605.7,384.5 610.3,376.9 614.2,368.1 C 618.2,359.3 623.9,345.1 625.8,340.5 Z"/>
<path d="M282,356 Q310,384 282,417 Q296,384 282,356Z"/>
<path d="M298,604 Q327,634 300,666 Q314,634 298,604Z"/>
<path d="M304,376 Q309,402 307,424 L312.5,407" fill="none"/>
<path d="M270.5,449 L273.5,544 L307.5,582 L267.5,551" fill="none"/>
</g>
</g>
  <!-- grommets -->
  <g fill="none" stroke="#2c2c2d">
    <circle cx="239.5" cy="627" r="16.8" stroke-width="1.2" stroke="#303031"/>
    <circle cx="239.5" cy="627" r="11.8" stroke-width="2.2" stroke="#272728"/>
    <circle cx="625" cy="618.5" r="16.8" stroke-width="1.2" stroke="#303031"/>
    <circle cx="625" cy="618.5" r="11.8" stroke-width="2.2" stroke="#272728"/>
  </g>
  <rect x="232" y="622" width="15" height="10" rx="4" fill="#f4f4f4" stroke="#2a2a2a" stroke-width=".8"/>
  <rect x="617.5" y="613.5" width="15" height="10" rx="4" fill="#f4f4f4" stroke="#2a2a2a" stroke-width=".8"/>
  <!-- badge -->
  <rect x="207.5" y="428.5" width="51" height="138" rx="5" fill="#353536" stroke="#2a2a2b" stroke-width="1"/>
  <rect x="210.5" y="432" width="45" height="131.5" rx="4" fill="url(#bdg)" stroke="#d8d8d8" stroke-width="1"/>
  <rect x="212" y="433.5" width="42" height="128.5" rx="3" fill="#0b0b0c"/>
  <path d="M213,434.5 h40 v6 q-13,-5.5 -40,-3.5z" fill="#f0f0f0" opacity=".92"/>
  <path d="M213,561 h40 v-8.5 q-18,3.5 -40,5.5z" fill="#fafafa" opacity=".96"/>
  <text transform="translate(223.5,448) rotate(90)" font-family="'Liberation Sans',sans-serif" font-weight="bold" font-style="italic" font-size="39" fill="#fff" stroke="#fff" stroke-width="1.6" textLength="101" lengthAdjust="spacingAndGlyphs">ikon</text>
  <text transform="translate(213.8,448) rotate(90)" font-family="'Liberation Sans',sans-serif" font-weight="bold" font-size="9.4" fill="#fff" textLength="92" lengthAdjust="spacingAndGlyphs">MOTORSPORTS</text>

  <use href="#matp" fill="none" stroke="#19191a" stroke-width="10.2" stroke-linejoin="round"/>
  <use href="#matp" fill="none" stroke="#252526" stroke-width="8.2" stroke-linejoin="round"/>
</g>

<!-- LABELS -->

<!-- dashed leader lines -->
<g>
  <path class="dash" d="M88,242.45H371"/>
  <path class="dash" d="M88,359.4H345"/>
  <path class="dash" d="M88,489.4H328"/>
  <path class="dash" d="M88,619.4H350"/>
  <path class="dash2" d="M529,321.5H709"/>
  <path class="dash2" d="M509,452.4H709"/>
  <path class="dash2" d="M533,582.4H709"/>
</g>
<!-- dots -->
<g fill="#e0000f" stroke="#e2e2e2" stroke-width="2">
  <circle cx="374.5" cy="241.5" r="3.5"/>
  <circle cx="348" cy="358.5" r="3.5"/>
  <circle cx="331.5" cy="488.5" r="3.5"/>
  <circle cx="353" cy="618.5" r="3.5"/>
  <circle cx="525.5" cy="321.5" r="3.5"/>
  <circle cx="505.6" cy="452.5" r="3.5"/>
  <circle cx="529.5" cy="582.5" r="3.5"/>
</g>
<!-- label text -->
<g class="lbl">
  <text x="99.8" y="228.7" textLength="76" lengthAdjust="spacingAndGlyphs">Durable</text>
  <text x="100.2" y="345.9" textLength="132" lengthAdjust="spacingAndGlyphs">Easy to Clean</text>
  <text x="101.6" y="475.9" textLength="86.4" lengthAdjust="spacingAndGlyphs">Odorless</text>
  <text x="102.8" y="607.9" textLength="107.6" lengthAdjust="spacingAndGlyphs">Waterproof</text>
  <text x="530" y="309.7" textLength="170" lengthAdjust="spacingAndGlyphs">Scratch Resistant</text>
  <text x="613.4" y="439.3" textLength="87.2" lengthAdjust="spacingAndGlyphs">Anti<tspan dy="-1.6" textLength="11" lengthAdjust="spacingAndGlyphs">-</tspan><tspan dy="1.6">Slip</tspan></text>
  <text x="587.4" y="569.3" textLength="113" lengthAdjust="spacingAndGlyphs">All Weather</text>
</g>

<!-- feature circles -->
<!-- 1 Durable -->
<g clip-path="url(#c1)">
  <rect x="0" y="185" width="95" height="95" fill="#fdfdfd"/>
  <path d="M0,228.5 L39,204 Q48,198.5 57,202 L95,218.5 V280 H0Z" fill="#2c2c2d"/>
  <g fill="none" stroke="#161617" stroke-width="1.6">
    <path d="M34,212 Q60,220 92,229"/>
    <path d="M8,231 Q50,236 92,244"/>
    <path d="M12,252 Q50,253 84,258"/>
  </g>
</g>
<circle cx="47" cy="232.4" r="40.6" fill="none" stroke="#2a2a2a" stroke-width="1"/>
<!-- 2 Easy to clean -->
<g clip-path="url(#c2)">
  <rect x="0" y="310" width="95" height="95" fill="#2d2d2e"/>
  <g fill="none" stroke="#171718" stroke-width="1.6">
    <path d="M30,319 Q60,322 84,338"/>
    <path d="M18,330 Q40,333 60,338"/>
    <path d="M10,342 Q25,344 40,346"/>
    <path d="M14,355 Q22,358 30,358"/>
    <path d="M12,378 Q40,380 70,394"/>
    <path d="M36,389 Q50,391 62,397"/>
  </g>
  <g filter="url(#b5)">
  <path d="M41,343.5 Q43,341 46,341.2 L85,340.8 L91,375 L35,373 L28,364 Z" fill="url(#brg)"/>
  <g stroke="#858585" stroke-width="1.5" fill="none" opacity=".8">
    <path d="M44,344 L31,365"/><path d="M50,344 L40,371"/><path d="M56,344 L48,372.5"/><path d="M62,343 L56,373"/><path d="M68,343 L64,373.5"/><path d="M74,343 L72,374"/><path d="M80,343 L80,374.5"/>
  </g>
  <g stroke="#2a2a2a" stroke-width="1.4" fill="none" opacity=".8">
    <path d="M47,345 L36,369"/><path d="M53,345 L44,372"/><path d="M59,345 L52,372.5"/><path d="M65,345 L60,373"/><path d="M71,345 L68,373.5"/><path d="M77,345 L76,374"/><path d="M83,345 L84,374.5"/>
  </g>
  <path d="M41,343.5 Q43,341 46,341.2 L85,340.8" fill="none" stroke="#bdbdbd" stroke-width="1.5"/>
  <path d="M28,364 L35,373 L91,375" fill="none" stroke="#8c8c8c" stroke-width="1.3" stroke-dasharray="3 1.5"/>
  </g>
</g>
<circle cx="47" cy="357.4" r="40.6" fill="none" stroke="#2a2a2a" stroke-width=".8"/>
<!-- 3 Odorless -->
<circle cx="47" cy="483.3" r="40.6" fill="#fff" stroke="#333" stroke-width="1.1"/>
<path d="M48,446 C44,458 23,476 23,492 C23,506 34,515.5 48,515.5 Z" fill="#36ae1c"/>
<path d="M48,446 C52,458 72.5,476 72.5,492 C72.5,506 62,515.5 48,515.5 Z" fill="#2da416"/>
<g stroke="#fff" fill="none" stroke-linecap="round">
  <path d="M48,447 V516" stroke-width="1.8" stroke-linecap="butt"/>
  <path d="M47.5,478 Q46,474 43.5,472.5" stroke-width="1.4"/>
  <path d="M47.5,489 Q44,483 39.5,481.5" stroke-width="1.5"/>
  <path d="M47.5,503 Q42,494 35.5,491.5" stroke-width="1.6"/>
</g>
<!-- 4 Waterproof -->
<g clip-path="url(#c4)">
  <rect x="0" y="560" width="95" height="95" fill="#343435"/>
  <g stroke="#161617" stroke-width="1.7" fill="none">
    <path d="M44,566 L92,593"/>
    <path d="M26,575 L90,608"/>
    <path d="M14,585 L88,623"/>
    <path d="M8,597 L80,634"/>
    <path d="M6,611 L68,642"/>
    <path d="M12,630 L52,649"/>
  </g>
  <g filter="url(#b8)">
  <ellipse cx="58" cy="599.5" rx="12.5" ry="13" fill="url(#drl)"/>
  <ellipse cx="35.8" cy="617.5" rx="8" ry="8.3" fill="url(#drl)"/>
  <ellipse cx="59.5" cy="595" rx="5.5" ry="3.4" fill="#fff"/>
  <ellipse cx="55" cy="603" rx="8" ry="1.2" fill="#555" opacity=".7"/>
  <ellipse cx="56" cy="610.5" rx="6" ry="2" fill="#eee" opacity=".8"/>
  <ellipse cx="34.5" cy="613" rx="3.2" ry="2.1" fill="#fff"/>
  <ellipse cx="36" cy="622.5" rx="4.4" ry="2" fill="#e4e4e4" opacity=".8"/>
  </g>
</g>
<!-- 5 Scratch resistant -->
<g clip-path="url(#c5)">
  <rect x="705" y="270" width="90" height="95" fill="#3a3a3b"/>
  <g fill="none" stroke="#19191a" stroke-width="1.7">
    <path d="M742,277 Q775,283 790,305"/>
    <path d="M728,283 Q770,287 790,318"/>
    <path d="M720,291 Q765,292 788,330"/>
    <path d="M714,299 Q760,298 784,340"/>
    <path d="M710,307 Q755,305 778,348"/>
    <path d="M708,316 Q748,312 772,354"/>
    <path d="M708,325 Q742,320 764,358"/>
    <path d="M710,334 Q738,330 756,360"/>
    <path d="M714,343 Q734,341 746,360"/>
    <path d="M722,350 Q730,350 736,358"/>
  </g>
  <path d="M731,319.5 L770,308.5" stroke="#b9a999" stroke-width="1.6" fill="none"/>
  <ellipse cx="735" cy="318.6" rx="4" ry="2" fill="#d8d0c8" opacity=".8" transform="rotate(-16 735 318.6)"/>
  <path d="M770,306 L786,299 L790,308 L774,314 Z" fill="#101010" stroke="#0a0a0a" stroke-width="2" stroke-linejoin="round"/>
</g>
<!-- 6 Anti-slip -->
<g clip-path="url(#c6)">
  <rect x="705" y="400" width="90" height="95" fill="#fbfbfb"/>
  <path d="M712,430 Q716,418 726,414 L756,408 L792,420 V492 H712 L720,456 Q716,452 714,446 Z" fill="#27272a"/>
  <path d="M708,460 L717,457.5 Q720.5,446 714.5,431.5 L708,434Z" fill="#fbfbfb"/>
  <path d="M708,459 Q716,462 720,456 L740,450 L760,490 H708Z" fill="#232325"/>
  <path d="M736,428 L757,407 L795,425 V480 L775,478 Z" fill="#303032"/>
  <g stroke="#151516" stroke-width="1.6" fill="none">
    <path d="M736,428 L775,478"/>
    <path d="M726,452 L742,447"/>
    <path d="M722,472 L752,459"/>
    <path d="M744,482 L766,470"/>
  </g>
  <g fill="#1b1b1c">
    <circle cx="748" cy="430" r="1"/><circle cx="755" cy="426" r="1"/><circle cx="762" cy="422" r="1"/>
    <circle cx="752" cy="438" r="1"/><circle cx="759" cy="434" r="1"/><circle cx="766" cy="430" r="1"/><circle cx="773" cy="426" r="1"/>
    <circle cx="757" cy="446" r="1"/><circle cx="764" cy="442" r="1"/><circle cx="771" cy="438" r="1"/><circle cx="778" cy="434" r="1"/>
    <circle cx="762" cy="454" r="1"/><circle cx="769" cy="450" r="1"/><circle cx="783" cy="442" r="1"/>
    <circle cx="767" cy="462" r="1"/><circle cx="774" cy="458" r="1"/><circle cx="781" cy="454" r="1"/>
    <circle cx="778" cy="447" r="2" fill="#050505"/>
  </g>
</g>
<circle cx="750" cy="447" r="40.6" fill="none" stroke="#222" stroke-width="1"/>
<!-- 7 All weather -->
<circle cx="750" cy="579" r="40.6" fill="#fff" stroke="#333" stroke-width="1.1"/>
<g fill="none" stroke="#2fae1a" stroke-width="7.4" stroke-linejoin="round">
  <path d="M733.3,575.6 L748.1,552.2 L759.9,568.9"/>
  <path d="M766.5,578.7 L778.2,595 L758,595"/>
  <path d="M748.8,595 L721,595 L728,584.9"/>
</g>
<g fill="#2fae1a">
  <path d="M763.9,574.6 L753.9,571.5 L764.6,564Z"/>
  <path d="M752.3,595 L759.9,589 L759.9,601.2Z"/>
  <path d="M731.8,579 L732.8,589.4 L721.8,582.6Z"/>
</g>

<!-- LOGO -->
<g>
  <text transform="translate(0,59.6) skewX(-12) scale(1,1.3)" font-family="'Liberation Sans',sans-serif" font-weight="bold" font-style="italic" font-size="44" fill="#111" stroke="#111" stroke-width="3.4" stroke-linejoin="miter"><tspan textLength="25" lengthAdjust="spacingAndGlyphs" stroke-width="1.8">i</tspan><tspan dx="-3" textLength="47" lengthAdjust="spacingAndGlyphs">k</tspan><tspan textLength="45.5" lengthAdjust="spacingAndGlyphs">o</tspan><tspan textLength="47.5" lengthAdjust="spacingAndGlyphs">n</tspan></text>
  <text transform="translate(142.5,68.5) rotate(-21.5) skewX(-14) scale(1,1.5)" font-family="'Liberation Serif',serif" font-style="italic" font-size="11.5" fill="#e8101a" textLength="97" lengthAdjust="spacingAndGlyphs">Motorsports</text>
</g>

</svg>
</body>
</html>
